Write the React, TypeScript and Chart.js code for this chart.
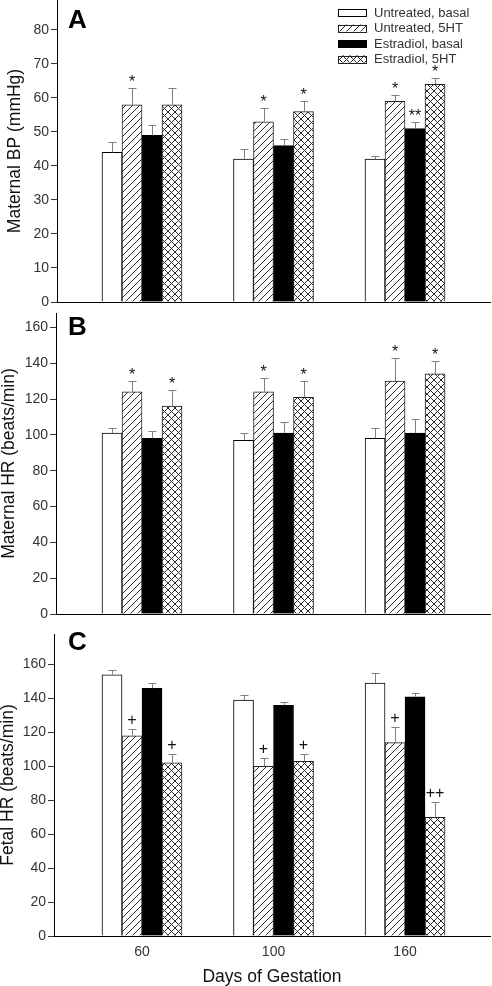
import React, { useEffect, useRef } from 'react';
import { Chart, registerables } from 'chart.js';

Chart.register(...registerables);

const FONT = "'Liberation Sans', Arial, Helvetica, sans-serif";

// ---------- shared ----------
const categories = ['60', '100', '160'];
const seriesNames = ['Untreated, basal', 'Untreated, 5HT', 'Estradiol, basal', 'Estradiol, 5HT'];
const xTitle = 'Days of Gestation';

// ---------- Panel A: Maternal BP (mmHg) ----------
const bpUntreatedBasal = [44, 42, 42];
const bpUntreated5HT = [58, 53, 59];
const bpEstradiolBasal = [49, 46, 51];
const bpEstradiol5HT = [58, 56, 64];
const bpUntreatedBasalSem = [3, 3, 1];
const bpUntreated5HTSem = [5, 4, 2];
const bpEstradiolBasalSem = [3, 2, 2];
const bpEstradiol5HTSem = [5, 3, 2];
const bpUntreatedBasalMarks = ['', '', ''];
const bpUntreated5HTMarks = ['*', '*', '*'];
const bpEstradiolBasalMarks = ['', '', '**'];
const bpEstradiol5HTMarks = ['', '*', '*'];
const bpTicks = [0, 10, 20, 30, 40, 50, 60, 70, 80];

// ---------- Panel B: Maternal HR (beats/min) ----------
const hrUntreatedBasal = [101, 97, 98];
const hrUntreated5HT = [124, 124, 130];
const hrEstradiolBasal = [98, 101, 101];
const hrEstradiol5HT = [116, 121, 134];
const hrUntreatedBasalSem = [3, 4, 6];
const hrUntreated5HTSem = [6, 8, 13];
const hrEstradiolBasalSem = [4, 6, 8];
const hrEstradiol5HTSem = [9, 9, 7];
const hrUntreatedBasalMarks = ['', '', ''];
const hrUntreated5HTMarks = ['*', '*', '*'];
const hrEstradiolBasalMarks = ['', '', ''];
const hrEstradiol5HTMarks = ['*', '*', '*'];
const hrTicks = [0, 20, 40, 60, 80, 100, 120, 140, 160];

// ---------- Panel C: Fetal HR (beats/min) ----------
const fhrUntreatedBasal = [154, 139, 149];
const fhrUntreated5HT = [118, 100, 114];
const fhrEstradiolBasal = [146, 136, 141];
const fhrEstradiol5HT = [102, 103, 70];
const fhrUntreatedBasalSem = [3, 3, 6];
const fhrUntreated5HTSem = [4, 5, 9];
const fhrEstradiolBasalSem = [3, 2, 2];
const fhrEstradiol5HTSem = [5, 4, 9];
const fhrUntreatedBasalMarks = ['', '', ''];
const fhrUntreated5HTMarks = ['+', '+', '+'];
const fhrEstradiolBasalMarks = ['', '', ''];
const fhrEstradiol5HTMarks = ['+', '+', '++'];
const fhrTicks = [0, 20, 40, 60, 80, 100, 120, 140, 160];

type PanelCfg = {
  letter: string;
  yTitle: string;
  values: number[][];
  sems: number[][];
  marks: string[][];
  ticks: number[];
  yMax: number;
  top: number;
  height: number;
  padTop: number;
  left: number;
  xMin: number;
  xMax: number;
  xHeight: number;
  showX: boolean;
  legend: boolean;
  letterY: number;
  titlePad: number;
};

const panels: PanelCfg[] = [
  {
    letter: 'A', yTitle: 'Maternal BP (mmHg)',
    values: [bpUntreatedBasal, bpUntreated5HT, bpEstradiolBasal, bpEstradiol5HT],
    sems: [bpUntreatedBasalSem, bpUntreated5HTSem, bpEstradiolBasalSem, bpEstradiol5HTSem],
    marks: [bpUntreatedBasalMarks, bpUntreated5HTMarks, bpEstradiolBasalMarks, bpEstradiol5HTMarks],
    ticks: bpTicks, yMax: 88.8,
    top: 0, height: 310, padTop: 0, left: 57, xMin: 0.3536, xMax: 3.6464, xHeight: 8,
    showX: false, legend: true, letterY: 28, titlePad: 5,
  },
  {
    letter: 'B', yTitle: 'Maternal HR (beats/min)',
    values: [hrUntreatedBasal, hrUntreated5HT, hrEstradiolBasal, hrEstradiol5HT],
    sems: [hrUntreatedBasalSem, hrUntreated5HTSem, hrEstradiolBasalSem, hrEstradiol5HTSem],
    marks: [hrUntreatedBasalMarks, hrUntreated5HTMarks, hrEstradiolBasalMarks, hrEstradiol5HTMarks],
    ticks: hrTicks, yMax: 168,
    top: 310, height: 310, padTop: 3, left: 56, xMin: 0.346, xMax: 3.646, xHeight: 6,
    showX: false, legend: false, letterY: 25, titlePad: -1.5,
  },
  {
    letter: 'C', yTitle: 'Fetal HR (beats/min)',
    values: [fhrUntreatedBasal, fhrUntreated5HT, fhrEstradiolBasal, fhrEstradiol5HT],
    sems: [fhrUntreatedBasalSem, fhrUntreated5HTSem, fhrEstradiolBasalSem, fhrEstradiol5HTSem],
    marks: [fhrUntreatedBasalMarks, fhrUntreated5HTMarks, fhrEstradiolBasalMarks, fhrEstradiol5HTMarks],
    ticks: fhrTicks, yMax: 178,
    top: 620, height: 366, padTop: 14, left: 54, xMin: 0.3308, xMax: 3.646, xHeight: 50,
    showX: true, legend: false, letterY: 30, titlePad: -2,
  },
];

function makePattern(target: CanvasRenderingContext2D, kind: 'hatch' | 'cross') {
  const s = 7;
  const c = document.createElement('canvas');
  c.width = s;
  c.height = s;
  const g = c.getContext('2d')!;
  g.fillStyle = '#ffffff';
  g.fillRect(0, 0, s, s);
  g.strokeStyle = '#2a2a2a';
  g.lineWidth = 1;
  g.beginPath();
  g.moveTo(-1, s + 1); g.lineTo(s + 1, -1);
  g.moveTo(-1, 1); g.lineTo(1, -1);
  g.moveTo(s - 1, s + 1); g.lineTo(s + 1, s - 1);
  if (kind === 'cross') {
    g.moveTo(-1, -1); g.lineTo(s + 1, s + 1);
    g.moveTo(s - 1, -1); g.lineTo(s + 1, 1);
    g.moveTo(-1, s - 1); g.lineTo(1, s + 1);
  }
  g.stroke();
  return target.createPattern(c, 'repeat')!;
}

const annotatePlugin = {
  id: 'annotate',
  afterDatasetsDraw(chart: any, _args: any, opts: any) {
    const { ctx } = chart;
    const yScale = chart.scales.y;
    ctx.save();
    chart.data.datasets.forEach((ds: any, di: number) => {
      const meta = chart.getDatasetMeta(di);
      meta.data.forEach((bar: any, i: number) => {
        const v = ds.data[i].y;
        const e = ds.sem[i];
        const x = Math.round(bar.x) + 0.5;
        const y0 = yScale.getPixelForValue(v);
        const y1 = Math.round(yScale.getPixelForValue(v + e)) + 0.5;
        ctx.strokeStyle = '#808080';
        ctx.lineWidth = 1;
        ctx.beginPath();
        ctx.moveTo(x, y0);
        ctx.lineTo(x, y1);
        ctx.moveTo(x - 4, y1);
        ctx.lineTo(x + 4, y1);
        ctx.stroke();
        const m = ds.marks[i];
        if (m) {
          ctx.fillStyle = '#111';
          ctx.font = `16px ${FONT}`;
          ctx.textAlign = 'center';
          ctx.textBaseline = 'alphabetic';
          ctx.fillText(m, bar.x, y1 - (m[0] === '+' ? 5 : 2));
        }
      });
    });
    ctx.font = `bold 26px ${FONT}`;
    ctx.fillStyle = '#000';
    ctx.textAlign = 'left';
    ctx.textBaseline = 'alphabetic';
    ctx.fillText(opts.letter, 68, opts.letterY);
    if (opts.legend) {
      const rowY = [12.5, 28, 43.5, 59];
      chart.data.datasets.forEach((ds: any, di: number) => {
        const cy = rowY[di];
        ctx.fillStyle = ds.backgroundColor;
        ctx.fillRect(338, cy - 3.5, 29, 7);
        ctx.strokeStyle = ds.borderColor;
        ctx.lineWidth = 1;
        ctx.strokeRect(338.5, Math.round(cy - 3.5) + 0.5, 28, 7);
        ctx.fillStyle = '#333';
        ctx.font = `13px ${FONT}`;
        ctx.textAlign = 'left';
        ctx.textBaseline = 'middle';
        ctx.fillText(ds.label, 374, cy + 0.5);
      });
    }
    ctx.restore();
  },
};

function Panel({ cfg }: { cfg: PanelCfg }) {
  const ref = useRef<HTMLCanvasElement>(null);
  useEffect(() => {
    const canvas = ref.current!;
    const c2d = canvas.getContext('2d')!;
    const hatch = makePattern(c2d, 'hatch');
    const cross = makePattern(c2d, 'cross');
    const fills: any[] = ['#ffffff', hatch, '#000000', cross];
    const borders = ['#000000', '#222222', '#000000', '#222222'];
    const datasets = cfg.values.map((vals, si) => ({
      label: seriesNames[si],
      data: vals.map((v, i) => ({ x: i + 1, y: v })),
      backgroundColor: fills[si],
      borderColor: borders[si],
      borderWidth: 1,
      borderSkipped: 'start',
      barThickness: 20,
      sem: cfg.sems[si],
      marks: cfg.marks[si],
    }));
    const chart = new Chart(canvas, {
      type: 'bar',
      data: { datasets } as any,
      plugins: [annotatePlugin],
      options: {
        animation: false,
        responsive: false,
        maintainAspectRatio: false,
        layout: { padding: { left: 0, right: 2, top: cfg.padTop, bottom: 0 } },
        plugins: {
          legend: { display: false },
          tooltip: { enabled: false },
          annotate: { letter: cfg.letter, letterY: cfg.letterY, legend: cfg.legend },
        } as any,
        scales: {
          x: {
            type: 'linear',
            min: cfg.xMin,
            max: cfg.xMax,
            offset: false,
            grid: { display: false, drawTicks: false },
            border: { display: true, color: '#000', width: 1 },
            afterBuildTicks: (scale: any) => {
              scale.ticks = categories.map((_, i) => ({ value: i + 1 }));
            },
            afterFit: (scale: any) => {
              scale.height = cfg.xHeight;
              scale.paddingLeft = 0;
              scale.paddingRight = 0;
            },
            ticks: {
              display: cfg.showX,
              autoSkip: false,
              maxRotation: 0,
              padding: 8,
              color: '#333',
              font: { family: FONT, size: 14 },
              callback: (value: any) => categories[Math.round(Number(value)) - 1] ?? '',
            },
            title: {
              display: cfg.showX,
              text: xTitle,
              color: '#111',
              font: { family: FONT, size: 17.5 },
              padding: { top: 0, bottom: -1.5 },
            },
          },
          y: {
            type: 'linear',
            min: 0,
            max: cfg.yMax,
            grid: { display: true, drawOnChartArea: false, drawTicks: true, tickLength: 6, color: '#333', tickColor: '#333' },
            border: { display: true, color: '#000', width: 1 },
            afterBuildTicks: (scale: any) => {
              scale.ticks = cfg.ticks.map((v) => ({ value: v }));
            },
            afterFit: (scale: any) => {
              scale.width = cfg.left;
              scale.paddingTop = 0;
              scale.paddingBottom = 0;
            },
            ticks: {
              padding: 2,
              color: '#333',
              font: { family: FONT, size: 14 },
            },
            title: {
              display: true,
              text: cfg.yTitle,
              color: '#111',
              font: { family: FONT, size: 17.5 },
              padding: { top: cfg.titlePad, bottom: 0 },
            },
          },
        } as any,
      },
    });
    return () => chart.destroy();
  }, [cfg]);
  return (
    <canvas
      ref={ref}
      width={492}
      height={cfg.height}
      style={{ position: 'absolute', left: 0, top: cfg.top, width: 492, height: cfg.height, display: 'block' }}
    />
  );
}

export default function App() {
  useEffect(() => {
    document.body.style.margin = '0';
    document.body.style.background = '#ffffff';
  }, []);
  return (
    <div style={{ position: 'relative', width: 492, height: 986, background: '#fff', overflow: 'hidden' }}>
      {panels.map((p) => (
        <Panel key={p.letter} cfg={p} />
      ))}
    </div>
  );
}
